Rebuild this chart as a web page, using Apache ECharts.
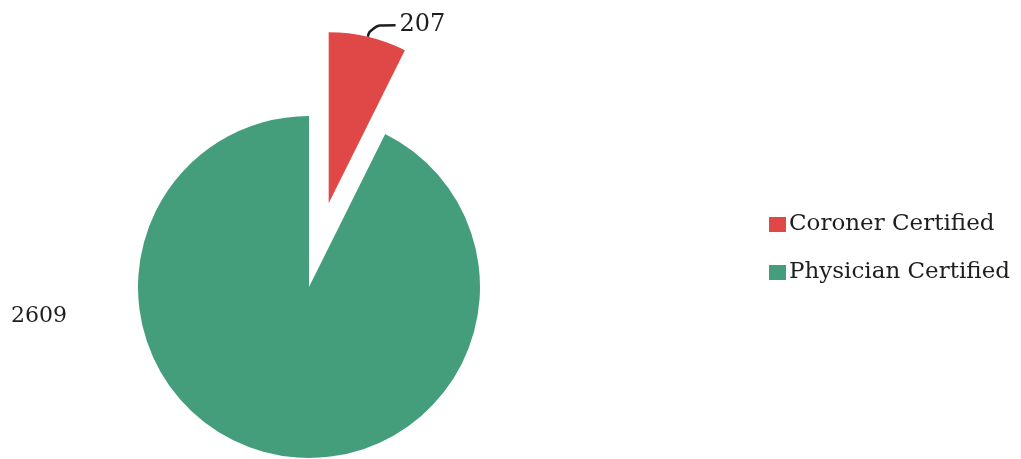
<!DOCTYPE html>
<html>
<head>
<meta charset="utf-8">
<script src="https://cdn.jsdelivr.net/npm/echarts@6/dist/echarts.min.js"></script>
<style>
  html, body { margin: 0; padding: 0; background: #fff; }
  #chart { width: 1021px; height: 459px; }
</style>
</head>
<body>
<div id="chart"></div>
<script>
// Death certificates by certifier
const categories = ['Coroner Certified', 'Physician Certified'];
const counts = [207, 2609];
const colors = ['#df4846', '#449e7c'];

const FONT = '"DejaVu Serif", "Liberation Serif", serif';

const chart = echarts.init(document.getElementById('chart'), null, { renderer: 'canvas' });

const data = categories.map((name, i) => ({
  name,
  value: counts[i],
  selected: i === 0,
  itemStyle: { color: colors[i] },
  label: { fontSize: i === 0 ? 24 : 22 },
  labelLine: { show: i === 0 }
}));

chart.setOption({
  animation: false,
  backgroundColor: '#ffffff',
  textStyle: { fontFamily: FONT, color: '#222' },
  legend: {
    orient: 'vertical',
    left: 764,
    top: 208,
    itemWidth: 17,
    itemHeight: 15,
    itemGap: 25,
    icon: 'rect',
    selectedMode: false,
    textStyle: { fontFamily: FONT, fontSize: 23, color: '#1e1e1e', padding: [0, 0, 0, -2] },
    data: categories
  },
  series: [{
    type: 'pie',
    center: [309, 287],
    radius: 171,
    startAngle: 90,
    clockwise: true,
    selectedMode: 'single',
    selectedOffset: 86,
    avoidLabelOverlap: false,
    emphasis: { disabled: true },
    label: {
      show: true,
      formatter: '{c}',
      fontFamily: FONT,
      color: '#1e1e1e',
      distanceToLabelLine: 4
    },
    labelLine: {
      show: true,
      length: 12,
      length2: 25,
      smooth: 0.6,
      lineStyle: { color: '#1e1e1e', width: 2.5 }
    },
    labelLayout: function (params) {
      if (params.dataIndex === 1) {
        return { x: 11, y: 316, align: 'left', verticalAlign: 'middle' };
      }
      return {};
    },
    data: data
  }]
});
</script>
</body>
</html>
